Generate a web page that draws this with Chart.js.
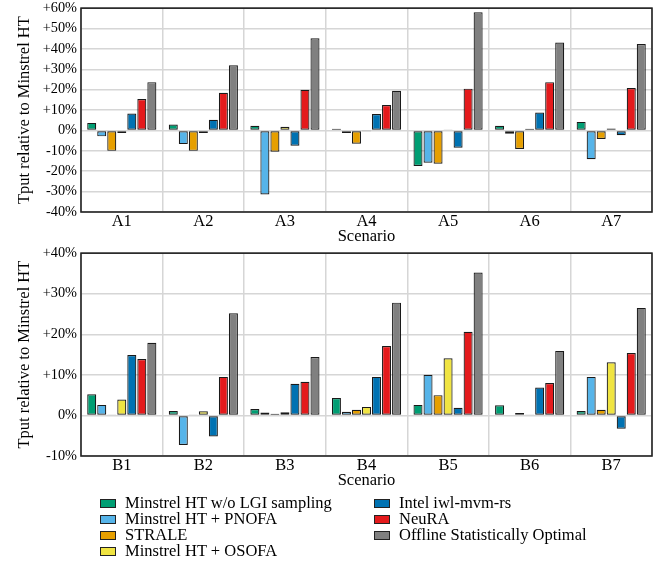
<!DOCTYPE html>
<html>
<head>
<meta charset="utf-8">
<script src="https://cdn.jsdelivr.net/npm/chart.js@4.4.1/dist/chart.umd.min.js"></script>
<style>
  body { margin: 0; background: #fff; width: 667px; height: 562px; position: relative; overflow: hidden; font-family: 'Liberation Serif', serif; }
  .wrap { position: absolute; left: 0; width: 667px; }
  #legend { position: absolute; left: 0; top: 0; }
  .item { position: absolute; font-size: 16.5px; line-height: 16px; color: #000; white-space: nowrap; }
  .item span.box { position: absolute; left: -25px; top: 4px; width: 14px; height: 7px; border: 1.2px solid #222; }
</style>
</head>
<body>
<div class="wrap" style="top:-3px;height:251px"><canvas id="chartA"></canvas></div>
<div class="wrap" style="top:242px;height:250px"><canvas id="chartB"></canvas></div>
<div id="legend"></div>
<script>
// scenarios and series
const seriesNames = ['Minstrel HT w/o LGI sampling', 'Minstrel HT + PNOFA', 'STRALE', 'Minstrel HT + OSOFA',
  'Intel iwl-mvm-rs', 'NeuRA', 'Offline Statistically Optimal'];
const seriesColors = ['#009E73', '#56B4E9', '#E69F00', '#F0E442', '#0072B2', '#E41A1C', '#808080'];

const scenariosA = ['A1', 'A2', 'A3', 'A4', 'A5', 'A6', 'A7'];
const scenariosB = ['B1', 'B2', 'B3', 'B4', 'B5', 'B6', 'B7'];

// values in % relative to Minstrel HT, one array per series
const lgiA    = [3.7, 2.9, 2.3, 0.8, -17.4, 2.3, 4.2];
const pnofaA  = [-2.9, -6.7, -31.4, -1.3, -15.8, -1.6, -14.1];
const straleA = [-10.0, -10.0, -10.4, -6.5, -16.3, -9.1, -4.2];
const osofaA  = [-1.3, -1.3, 1.8, -0.2, 0.2, 0.8, 1.0];
const intelA  = [8.3, 5.2, -7.5, 8.1, -8.5, 8.8, -2.3];
const neuraA  = [15.4, 18.5, 20.0, 12.5, 20.5, 23.7, 20.8];
const optA    = [23.7, 32.0, 45.2, 19.5, 58.0, 43.1, 42.4];

const lgiB    = [5.2, 1.1, 1.6, 4.3, 2.6, 2.5, 1.1];
const pnofaB  = [2.6, -7.3, 0.7, 0.9, 10.0, -0.2, 9.5];
const straleB = [0.2, 0.2, 0.4, 1.4, 5.0, 0.6, 1.4];
const osofaB  = [3.9, 1.0, 0.8, 2.1, 14.1, 0.1, 13.1];
const intelB  = [14.9, -5.2, 7.8, 9.5, 1.9, 6.9, -3.3];
const neuraB  = [13.9, 9.5, 8.3, 17.1, 20.6, 8.0, 15.4];
const optB    = [17.9, 25.2, 14.4, 27.8, 35.2, 15.9, 26.5];

const ticksA = [-40, -30, -20, -10, 0, 10, 20, 30, 40, 50, 60];
const ticksB = [-10, 0, 10, 20, 30, 40];

const FONT = 'Liberation Serif';

const frame = {
  id: 'frame',
  afterDraw(chart) {
    const { ctx, chartArea: a } = chart;
    ctx.save();
    ctx.strokeStyle = '#222';
    ctx.lineWidth = 1.6;
    ctx.strokeRect(a.left, a.top, a.right - a.left, a.bottom - a.top);
    ctx.restore();
  }
};

function makeChart(id, labels, rows, ticks) {
  return new Chart(document.getElementById(id), {
    type: 'bar',
    data: {
      labels: labels,
      datasets: rows.map((d, i) => ({
        label: seriesNames[i],
        data: d,
        backgroundColor: seriesColors[i],
        borderColor: '#1a1a1a',
        borderWidth: 1.2,
        borderSkipped: false,
        categoryPercentage: 0.86,
        barPercentage: 0.9
      }))
    },
    options: {
      responsive: true,
      maintainAspectRatio: false,
      animation: false,
      layout: { padding: { top: 0, right: 15, left: 0, bottom: 0 } },
      plugins: { legend: { display: false }, tooltip: { enabled: false } },
      scales: {
        x: {
          grid: { color: '#d6d6d6', lineWidth: 1.5, drawTicks: false },
          border: { display: false },
          ticks: { color: '#000', padding: 1, font: { family: FONT, size: 16.5, lineHeight: 1 } },
          title: { display: true, text: 'Scenario', color: '#000', padding: { top: 0, bottom: 3 },
            font: { family: FONT, size: 16.5, lineHeight: 1 } },
          afterFit(s) { s.height = 36; }
        },
        y: {
          min: ticks[0],
          max: ticks[ticks.length - 1],
          afterBuildTicks(s) { s.ticks = ticks.map(v => ({ value: v })); },
          grid: { color: '#d6d6d6', lineWidth: 1.5, drawTicks: false },
          border: { display: false },
          ticks: {
            color: '#000', padding: 4, autoSkip: false, font: { family: FONT, size: 14.3, lineHeight: 1 },
            callback: v => (v > 0 ? '+' : '') + v + '%'
          },
          title: { display: true, text: 'Tput relative to Minstrel HT', color: '#000', padding: { top: 16, bottom: 0 },
            font: { family: FONT, size: 16.5, lineHeight: 1 } },
          afterFit(s) { s.width = 81; }
        }
      }
    },
    plugins: [frame]
  });
}

makeChart('chartA', scenariosA, [lgiA, pnofaA, straleA, osofaA, intelA, neuraA, optA], ticksA);
makeChart('chartB', scenariosB, [lgiB, pnofaB, straleB, osofaB, intelB, neuraB, optB], ticksB);

// legend in two columns, column-major
const legend = document.getElementById('legend');
seriesNames.forEach((name, i) => {
  const col = i < 4 ? 0 : 1;
  const row = i < 4 ? i : i - 4;
  const el = document.createElement('div');
  el.className = 'item';
  el.style.left = (col === 0 ? 125 : 399) + 'px';
  el.style.top = (495 + row * 16) + 'px';
  el.innerHTML = '<span class="box" style="background:' + seriesColors[i] + '"></span>' + name;
  legend.appendChild(el);
});
</script>
</body>
</html>
